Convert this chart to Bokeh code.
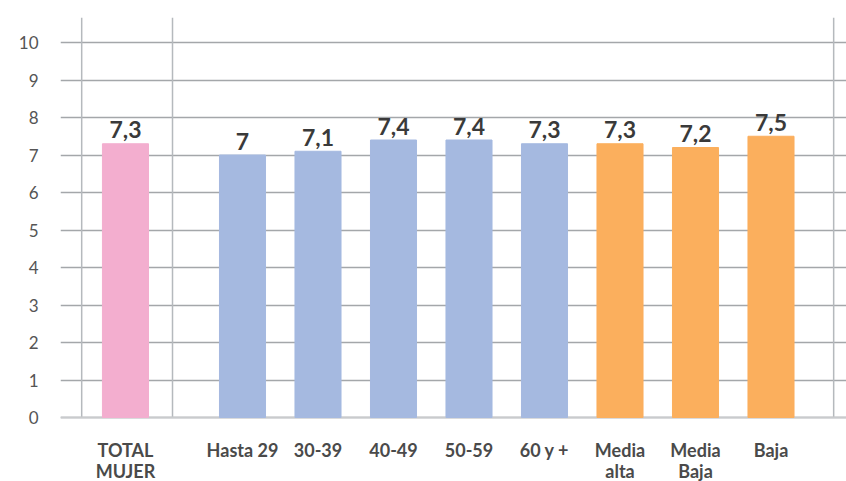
from bokeh.plotting import figure
from bokeh.models import ColumnDataSource, FixedTicker
from bokeh.core.properties import value
from bokeh.embed import file_html
from bokeh.resources import INLINE

# ---- data ----
categories = ["TOTAL\nMUJER", "Hasta 29", "30-39", "40-49", "50-59", "60 y +",
              "Media\nalta", "Media\nBaja", "Baja"]
values = [7.3, 7.0, 7.1, 7.4, 7.4, 7.3, 7.3, 7.2, 7.5]
groups = ["total", "edad", "edad", "edad", "edad", "edad", "nivel", "nivel", "nivel"]
y_ticks = [0, 1, 2, 3, 4, 5, 6, 7, 8, 9, 10]

# ---- layout ----
group_colors = {"total": "#F3AECF", "edad": "#A5B9E0", "nivel": "#FBAF5D"}
positions = [-0.55] + [float(i) for i in range(1, 9)]
separators = [-1.13, 0.073, 8.83]
y_top = 10.667
y_bottom = -1.7067

def fmt(v):
    s = ("%.1f" % v).replace(".", ",")
    return s[:-2] if s.endswith(",0") else s

line1 = [c.split("\n")[0] for c in categories]
line2 = [c.split("\n")[1] if "\n" in c else "" for c in categories]

src = ColumnDataSource(dict(
    x=positions, top=values, color=[group_colors[g] for g in groups],
    label=[fmt(v) for v in values], l1=line1, l2=line2, zero=[0] * len(values)))

p = figure(width=846, height=481, output_backend="svg", toolbar_location=None,
           x_range=(-1.4106, 9.0), y_range=(y_bottom, y_top),
           min_border_left=60, min_border_right=0, min_border_top=17, min_border_bottom=0)
p.outline_line_color = None

# grid
p.xgrid.grid_line_color = None
p.ygrid.ticker = FixedTicker(ticks=y_ticks)
p.ygrid.grid_line_color = "#a4a7aa"
p.ygrid.grid_line_width = 1.3

# separators
p.segment(x0=separators, y0=[0] * 3, x1=separators, y1=[y_top] * 3,
          line_color="#b5b9bd", line_width=1.5)
p.segment(x0=[-1.4106], y0=[0], x1=[9.0], y1=[0], line_color="#c9cbcd", line_width=2)

p.vbar(x="x", top="top", bottom=0, width=0.61, color="color", source=src)
p.text(x="x", y="top", text="label", source=src, text_align="center",
       text_baseline="alphabetic", y_offset=-14, text_font=value("Lato"),
       text_font_style="bold", text_font_size="23px", text_color="#3a3a3a")

# category labels (two lines)
for col, off in (("l1", 32), ("l2", 53)):
    p.text(x="x", y="zero", text=col, source=src, text_align="center",
           text_baseline="alphabetic", y_offset=off, text_font=value("Lato"),
           text_font_style="bold", text_font_size="18px", text_color="#4a4a4a")

# y axis
p.yaxis.ticker = FixedTicker(ticks=y_ticks)
p.yaxis.axis_line_color = None
p.yaxis.major_tick_line_color = None
p.yaxis.minor_tick_line_color = None
p.yaxis.major_label_standoff = 16
p.yaxis.major_label_text_font = "Lato"
p.yaxis.major_label_text_font_size = "17px"
p.yaxis.major_label_text_color = "#555555"
p.xaxis.visible = False

open("out.html", "w").write(file_html(p, INLINE))
